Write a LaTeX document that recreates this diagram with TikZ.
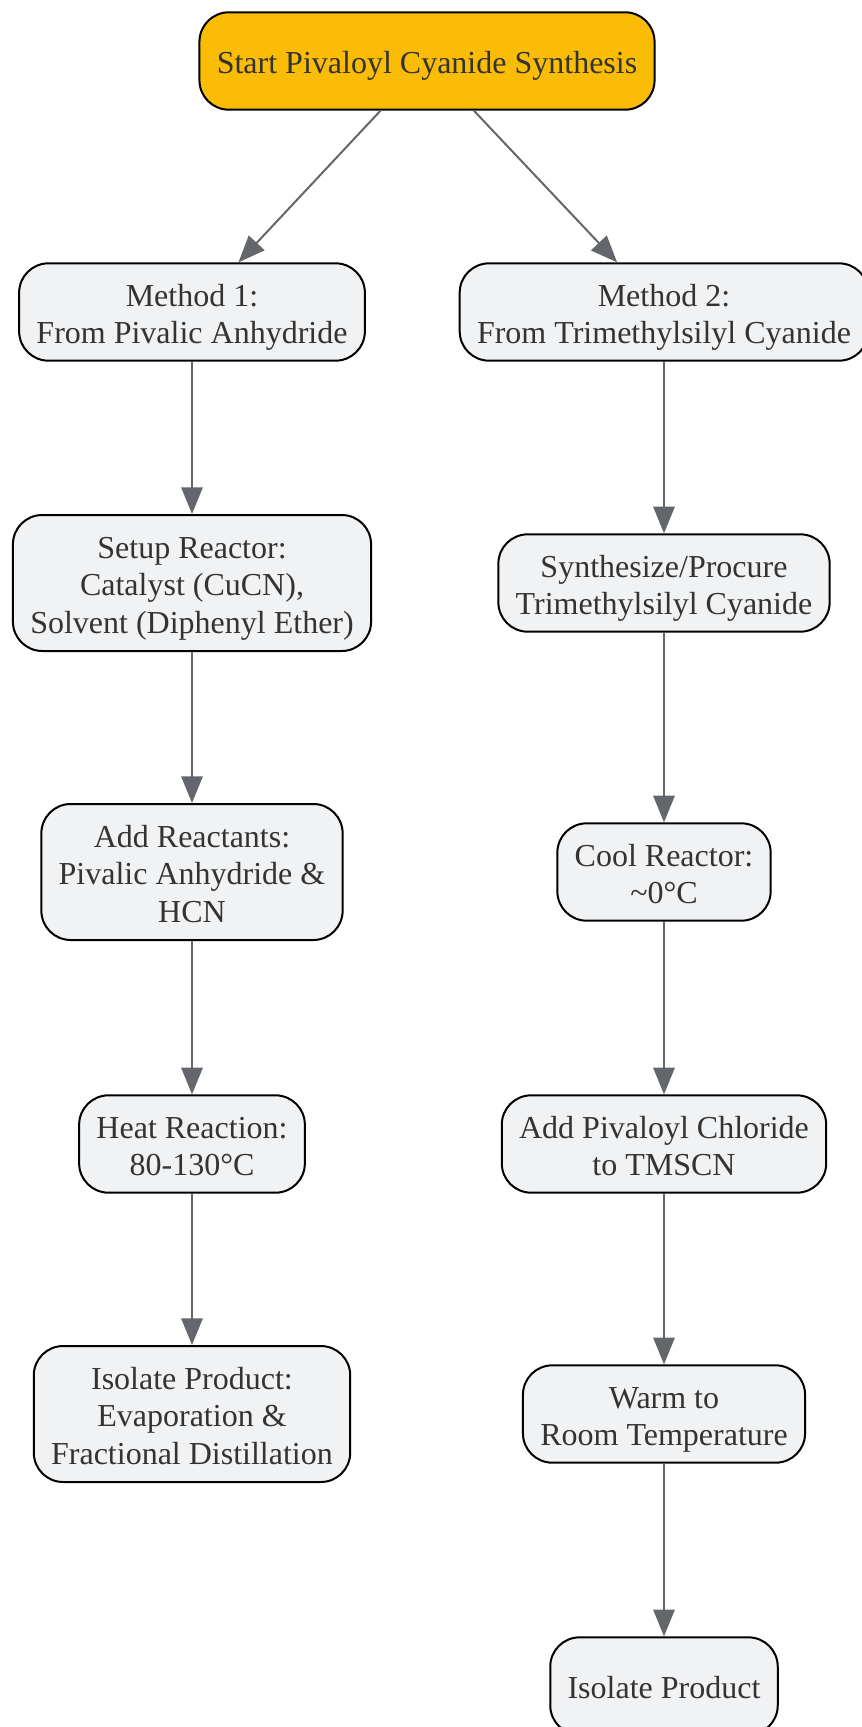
\documentclass[tikz,border=0pt]{standalone}
\usepackage{fontspec}
\setmainfont{Liberation Serif}
\usetikzlibrary{arrows.meta}
\definecolor{stepfill}{HTML}{F1F2F4}
\definecolor{startfill}{HTML}{FBBC05}
\definecolor{txtgray}{HTML}{333333}
\definecolor{arrgray}{HTML}{63666A}
% struts so that every box sets its lines at the same height
\newcommand{\topgap}{\rule{0pt}{25.4pt}}
\newcommand{\botgap}{\rule[-6pt]{0pt}{0pt}}

\begin{document}
\begin{tikzpicture}[x=0.75pt, y=-0.75pt,
  stepbox/.style={draw=black, line width=1.5pt, fill=stepfill, rounded corners=22pt,
    align=center, text=txtgray, font=\fontsize{24}{28}\selectfont,
    inner xsep=13pt, inner ysep=4pt, minimum height=73pt},
  tall/.style={minimum height=102pt},
  flow/.style={draw=arrgray, line width=1.5pt, -{Triangle[length=20pt,width=16pt]}}]
\useasboundingbox (0,0) rectangle (862,1727);
% start
\node[stepbox, fill=startfill] (start) at (427,61) {\topgap Start Pivaloyl Cyanide Synthesis\botgap};
% method 1 (left column)
\node[stepbox] (m1) at (192,312) {\topgap Method 1:\\From Pivalic Anhydride\botgap};
\node[stepbox, tall] (setup) at (192,583) {\topgap Setup Reactor:\\Catalyst (CuCN),\\Solvent (Diphenyl Ether)\botgap};
\node[stepbox, tall] (addreact) at (192,872) {\topgap Add Reactants:\\Pivalic Anhydride \&\\HCN\botgap};
\node[stepbox] (heat) at (192,1144) {\topgap Heat Reaction:\\80-130°C\botgap};
\node[stepbox, tall] (isoleft) at (192,1414) {\topgap Isolate Product:\\Evaporation \&\\Fractional Distillation\botgap};
% method 2 (right column)
\node[stepbox] (m2) at (664,312) {\topgap Method 2:\\From Trimethylsilyl Cyanide\botgap};
\node[stepbox] (synth) at (664,583) {\topgap Synthesize/Procure\\Trimethylsilyl Cyanide\botgap};
\node[stepbox] (cool) at (664,872) {\topgap Cool Reactor:\\\textasciitilde0°C\botgap};
\node[stepbox] (addpiv) at (664,1144) {\topgap Add Pivaloyl Chloride\\to TMSCN\botgap};
\node[stepbox] (warm) at (664,1414) {\topgap Warm to\\Room Temperature\botgap};
\node[stepbox] (isoright) at (664,1686) {\topgap Isolate Product\botgap};
% arrows
\draw[flow] (start) -- (m1);
\draw[flow] (start) -- (m2);
\draw[flow] (m1) -- (setup);
\draw[flow] (setup) -- (addreact);
\draw[flow] (addreact) -- (heat);
\draw[flow] (heat) -- (isoleft);
\draw[flow] (m2) -- (synth);
\draw[flow] (synth) -- (cool);
\draw[flow] (cool) -- (addpiv);
\draw[flow] (addpiv) -- (warm);
\draw[flow] (warm) -- (isoright);
\end{tikzpicture}
\end{document}
